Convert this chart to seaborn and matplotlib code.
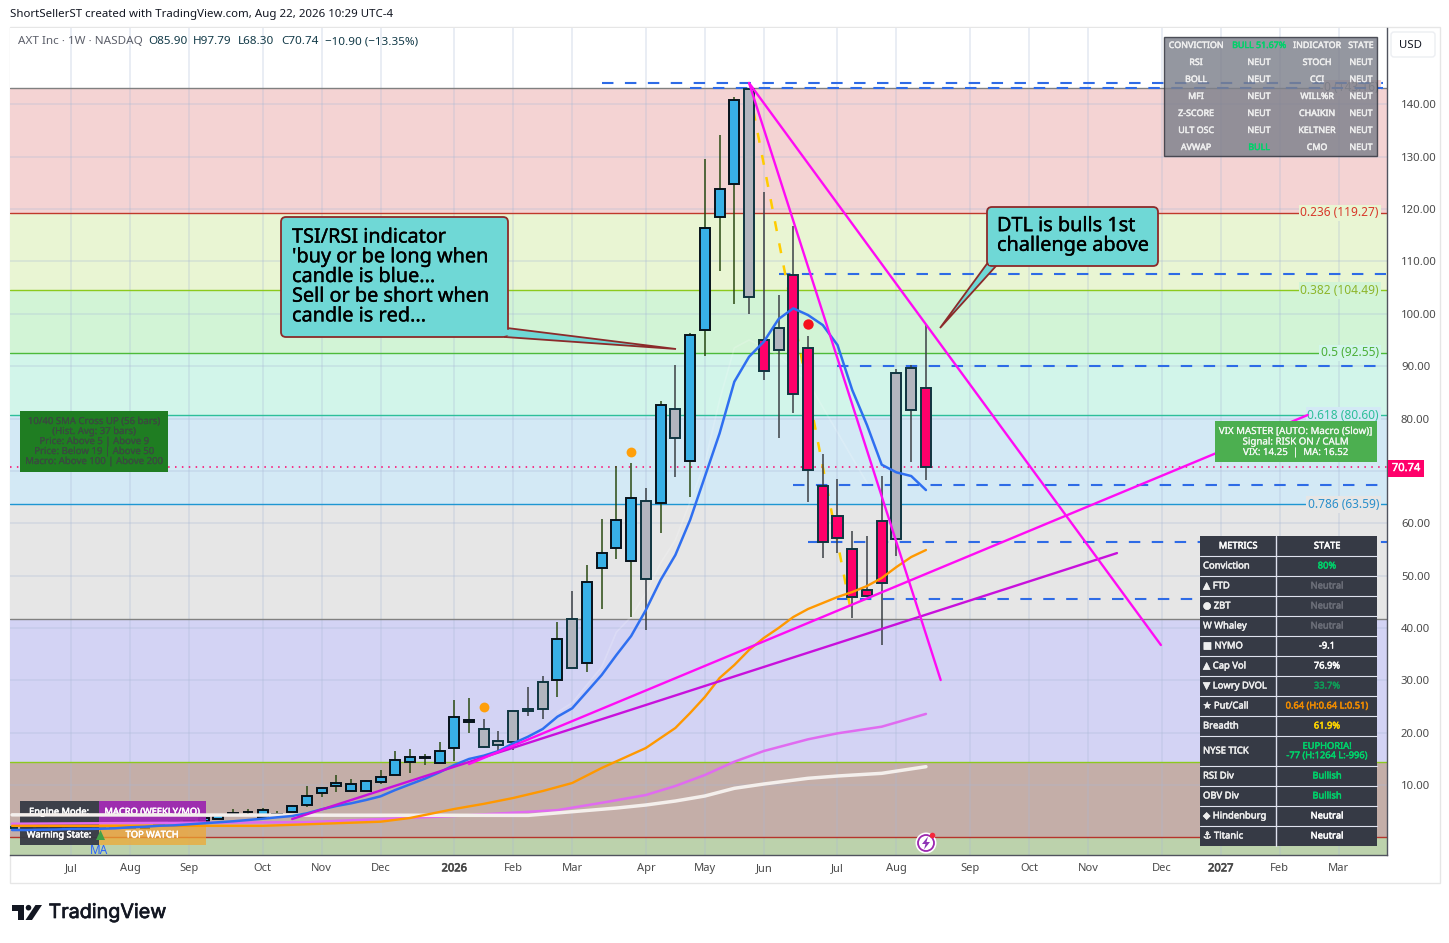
import matplotlib
matplotlib.use('Agg')
import matplotlib.pyplot as plt
import matplotlib.patheffects as pe
from matplotlib.patches import Rectangle, FancyBboxPatch, Polygon, Circle
from matplotlib.transforms import blended_transform_factory
import seaborn as sns

W, H = 1449, 943

# weekly bars, week 0 is the first bar of 2026
candle_week = list(range(-30, 33))
candle_kind = list('gggbgbgbgb' 'gbbbbbbbbb' 'bbbbbbbbbb'
                   'bbggggg' 'bgbbbb' 'gbgbbbbg' 'rgrrrrrrr' 'ggr')
body_top = [2.0, 1.9, 2.1, 1.9, 2.0, 2.1, 1.8, 1.9, 2.0, 1.8,
            2.65, 2.9, 3.07, 3.64, 4.21, 4.6, 4.9, 5.17, 4.4, 5.93,
            7.84, 9.37, 10.32, 10.13, 10.71, 11.47, 14.72, 15.29, 15.4, 16.55,
            22.93, 22.36, 20.75, 18.46, 24.08, 24.46, 29.62, 37.83, 41.65, 48.72,
            54.25, 60.56, 64.76, 64.19, 82.52, 81.76, 95.89, 116.33, 123.78, 140.78,
            142.88, 94.94, 97.2, 107.35, 93.41, 67.05, 61.32, 55.02, 47.19, 60.37,
            88.63, 89.59, 85.90]
body_bot = [1.8, 1.7, 1.9, 1.75, 1.8, 1.9, 1.7, 1.75, 1.85, 1.7,
            2.35, 2.75, 2.69, 3.22, 3.6, 4.5, 4.8, 3.95, 4.2, 4.79,
            6.12, 8.41, 9.75, 8.8, 8.8, 10.52, 11.85, 14.45, 15.2, 14.14,
            17.01, 21.98, 17.32, 17.58, 18.16, 24.08, 24.46, 30.0, 32.29, 33.24,
            51.39, 55.21, 52.73, 49.29, 63.81, 76.22, 71.83, 96.85, 118.43, 124.73,
            103.15, 89.02, 93.03, 84.62, 70.11, 56.47, 57.12, 45.85, 46.04, 48.52,
            56.93, 81.57, 70.74]
wick_high = [2.1, 2.0, 2.2, 2.0, 2.1, 2.2, 1.9, 2.0, 2.1, 1.9,
             2.8, 3.1, 3.2, 3.7, 4.46, 5.36, 5.36, 5.55, 4.98, 6.12,
             9.81, 9.56, 11.85, 11.15, 10.9, 12.87, 16.49, 16.82, 15.92, 18.16,
             26.24, 26.62, 22.55, 20.31, 24.08, 28.72, 30.82, 41.13, 47.05, 51.96,
             60.81, 70.87, 71.5, 66.73, 83.29, 90.2, 96.26, 129.57, 134.15, 141.35,
             143.2, 123.26, 103.59, 116.77, 95.76, 73.16, 68.39, 58.46, 57.5, 69.02,
             89.4, 90.32, 97.79]
wick_low = [1.7, 1.6, 1.8, 1.7, 1.7, 1.8, 1.6, 1.7, 1.8, 1.6,
            2.2, 2.6, 2.6, 3.22, 3.6, 4.5, 4.33, 3.95, 3.89, 4.79,
            5.8, 7.77, 8.72, 8.6, 8.8, 10.25, 11.85, 12.35, 13.88, 14.14,
            14.58, 19.99, 17.12, 16.05, 16.63, 23.24, 22.66, 26.87, 32.29, 31.64,
            43.67, 53.22, 42.14, 39.66, 58.19, 68.88, 65.07, 91.99, 108.23, 101.93,
            100.0, 87.36, 76.3, 81.11, 64.11, 53.41, 54.25, 41.95, 46.04, 36.8,
            53.8, 71.75, 68.30]

blue_week = candle_week
blue_ma = [1.4, 1.4, 1.46, 1.5, 1.6, 1.6, 1.65, 1.73, 1.92, 2.03,
           2.22, 2.3, 2.49, 2.68, 2.88, 3.07, 3.31, 3.56, 3.83, 4.08,
           4.59, 5.36, 5.99, 6.5, 7.13, 7.84, 9.05, 10.13, 11.2, 12.43,
           13.82, 14.97, 15.6, 16.49, 17.96, 19.22, 20.7, 23.05, 24.65, 27.82,
           31.01, 34.83, 38.46, 43.43, 49.16, 53.93, 60.62, 68.89, 77.17, 87.03,
           91.8, 94.67, 99.0, 101.05, 99.77, 97.86, 94.04, 85.45, 78.76, 71.18,
           69.72, 69.02, 66.34]

orange_week = [-30, -13, -5, -3, 0, 2, 4, 6, 8, 10, 13, 15, 16, 17, 18, 19, 20, 21, 22, 23, 24, 25, 26, 27, 28, 29, 30, 31, 32]
orange_ma = [2.2, 2.2, 2.99, 3.7, 5.42, 6.4, 7.52, 8.85, 10.38, 13.25, 17.07, 20.89, 23.75, 26.81, 30.44,
             32.92, 35.79, 38.08, 39.99, 42.09, 43.62, 44.76, 45.91, 46.86, 48.01, 49.54, 51.64, 53.55, 54.89]

violet_week = [-30, -10, 0, 7, 10, 13, 15, 17, 19, 21, 24, 26, 29, 32]
violet_ma = [2.6, 2.9, 4.08, 5.2, 6.6, 8.09, 9.81, 11.91, 14.45, 16.49, 18.73, 19.87, 21.14, 23.58]

white_week = [-30, 5, 8, 11, 13, 15, 17, 19, 21, 24, 26, 29, 32]
white_ma = [4.3, 4.2, 4.9, 5.6, 6.18, 6.94, 7.9, 9.37, 10.19, 11.28, 11.72, 12.23, 13.5]

ghost_week = [7, 8, 9, 10, 11, 12, 13, 14, 15, 16, 17, 18, 19, 20, 21, 22, 24, 28]
ghost_line = [23.9, 25.7, 29.1, 32.5, 39.2, 42.1, 46.7, 52.4, 56.8, 64.1, 71.5, 83.5, 93.5, 95.0, 93.7, 92.0, 87.0, 67.7]

drop_fast_week = [20, 33]
drop_fast = [144.1, 30.05]
drop_slow_week = [20, 47.94]
drop_slow = [144.1, 36.74]
rise_top_week = [1, 57.9]
rise_top = [14.0, 80.67]
rise_low_week = [-11, 44.96]
rise_low = [3.5, 54.3]
gold_week = [20, 27]
gold_line = [143.0, 41.95]

# horizontal dashed levels: value, first week
dash_levels = [144.1, 143.2, 107.6, 90.03, 67.3, 56.47, 45.6]
dash_start = [10, 16, 22, 26, 23, 24, 26]
dash_end = [63.0, 63.0, 63.2, 63.0, 63.0, 63.28, 63.0]

# fib zones
fib_values = [143.16, 119.27, 104.49, 92.55, 80.60, 63.59, 41.73, 14.36, 0.0]
fib_labels = ['0 (143.16)', '0.236 (119.27)', '0.382 (104.49)', '0.5 (92.55)', '0.618 (80.60)',
              '0.786 (63.59)', '', '', '']
fib_colors = ['#808080', '#c0392b', '#8cc91e', '#4cbb3a', '#2ebf9a', '#1e96d2', '#808080', '#8cc91e', '#b5352c']
fib_text_colors = ['#808080', '#d8382a', '#8db52a', '#4caf38', '#2ebf9a', '#2a8fcb', '#808080', '#8cc91e', '#b5352c']
zone_colors = ['#f4d3d3', '#e9f5d3', '#d2f4d6', '#d2f5ea', '#d3e9f5', '#e6e6e6', '#d3d3f4', '#c4aea8', '#bcd2ac']

signal_week = [2, 12]
signal_price = [24.9, 73.6]
sell_week = [24]
sell_price = [98.05]
last_close = 70.74

month_week = [-26, -22, -18, -13, -9, -5, 0, 4, 8, 13, 17, 21, 26, 30, 35, 39, 43, 48, 52, 56, 60]
month_names = ['Jul', 'Aug', 'Sep', 'Oct', 'Nov', 'Dec', '2026', 'Feb', 'Mar', 'Apr', 'May', 'Jun',
               'Jul', 'Aug', 'Sep', 'Oct', 'Nov', 'Dec', '2027', 'Feb', 'Mar']
price_ticks = [10, 20, 30, 40, 50, 60, 70, 80, 90, 100, 110, 120, 130, 140]

grid_rows = [['CONVICTION', 'BULL 51.67%', 'INDICATOR', 'STATE'],
             ['RSI', 'NEUT', 'STOCH', 'NEUT'],
             ['BOLL', 'NEUT', 'CCI', 'NEUT'],
             ['MFI', 'NEUT', 'WILL%R', 'NEUT'],
             ['Z-SCORE', 'NEUT', 'CHAIKIN', 'NEUT'],
             ['ULT OSC', 'NEUT', 'KELTNER', 'NEUT'],
             ['AVWAP', 'BULL', 'CMO', 'NEUT']]

metric_names = ['METRICS', 'Conviction', '▲ FTD', '● ZBT', 'W Whaley', '■ NYMO', '▲ Cap Vol', '▼ Lowry DVOL',
                '★ Put/Call', 'Breadth', 'NYSE TICK', 'RSI Div', 'OBV Div', '◆ Hindenburg', '⚓ Titanic']
metric_states = ['STATE', '80%', 'Neutral', 'Neutral', 'Neutral', '-9.1', '76.9%', '33.7%',
                 '0.64 (H:0.64 L:0.51)', '61.9%', 'EUPHORIA!\n-77 (H:1264 L:-996)', 'Bullish', 'Bullish',
                 'Neutral', 'Neutral']
metric_colors = ['#ffffff', '#00d26a', '#6b6e78', '#6b6e78', '#6b6e78', '#ffffff', '#ffffff', '#0f9d58',
                 '#f08c00', '#ffd600', '#00d26a', '#00d26a', '#00d26a', '#ffffff', '#ffffff']
metric_rows = [536, 556, 576, 596, 616, 636, 656, 676, 696, 716, 736, 766, 786, 806, 826, 846]

sns.set_theme(style='white')
plt.rcParams['font.family'] = ['Noto Sans', 'DejaVu Sans']

fig = plt.figure(figsize=(W / 100, H / 100), dpi=100, facecolor='white')

# pixel canvas for everything that is not price data
ov = fig.add_axes([0, 0, 1, 1], zorder=0)
ov.set_xlim(0, W)
ov.set_ylim(H, 0)
ov.axis('off')
ov.add_patch(Rectangle((10, 27), 1430, 856, fill=False, ec='#e6e6e6', lw=1))

ax = fig.add_axes([10 / W, 1 - 855 / H, 1377 / W, 827 / H], zorder=1)
ax.set_xlim(-30.14, 63.28)
ax.set_ylim(-3.37, 154.6)
px = ov.transData
lab_tf = blended_transform_factory(px, ax.transData)

# zones and fib lines
for i in range(len(zone_colors)):
    lower = fib_values[i + 1] if i + 1 < len(fib_values) else -3.37
    ax.axhspan(lower, fib_values[i], color=zone_colors[i], lw=0, zorder=0)
for val, col in zip(fib_values, fib_colors):
    ax.axhline(val, color=col, lw=1, zorder=2)

ax.set_xticks(month_week)
ax.set_xticklabels(month_names)
ax.set_yticks(price_ticks)
# the last price tag sits over the 70 label
ax.set_yticklabels(['' if t == 70 else '%.2f' % t for t in price_ticks])
ax.grid(True, color='#a9b9d6', alpha=0.3, lw=1.2)
ax.set_axisbelow('line')
ax.yaxis.tick_right()
ax.tick_params(axis='y', length=0, pad=10, labelsize=8.2, labelcolor='#4a4a4a')
ax.tick_params(axis='x', length=0, pad=6, labelsize=8, labelcolor='#4a4a4a')
for lab in ax.get_xticklabels():
    if lab.get_text() in ('2026', '2027'):
        lab.set_path_effects([pe.withStroke(linewidth=0.5, foreground='#4a4a4a')])
for name in ['top', 'left']:
    ax.spines[name].set_visible(False)
for name in ['right', 'bottom']:
    ax.spines[name].set_color('#50535e')
    ax.spines[name].set_linewidth(1)

for val, txt, col, zone in zip(fib_values, fib_labels, fib_text_colors, zone_colors):
    if txt:
        ax.text(1379, val, txt, transform=lab_tf, ha='right', va='center', fontsize=8.6, color=col,
                zorder=2.2, bbox=dict(fc=zone, ec='none', pad=1.2))

ax.axhline(last_close, color='#ff006a', lw=1.1, ls=(0, (1, 3.5)), zorder=2.3)

# dashed support and resistance
for lvl, x0, x1 in zip(dash_levels, dash_start, dash_end):
    ax.hlines(lvl, x0, x1, color='#2e6be6', lw=1.5, ls=(0, (5.5, 5.5)), zorder=2.5)

sns.lineplot(x=gold_week, y=gold_line, ax=ax, color='#ffcc00', lw=1.8, linestyle=(0, (4, 5)), zorder=2.6)
sns.lineplot(x=ghost_week, y=ghost_line, ax=ax, color='white', lw=1.2, alpha=0.18, estimator=None, sort=False, zorder=2.7)

# candles
fill = {'b': '#38b0e6', 'g': '#b2b5be', 'r': '#ff006a'}
edge = {'b': '#07121a', 'g': '#0f3540', 'r': '#0f3540'}
wick = {'b': '#2a4a12', 'g': '#3b4045', 'r': '#3b4045'}
for wk, kind, top, bot, hi, lo in zip(candle_week, candle_kind, body_top, body_bot, wick_high, wick_low):
    ax.vlines(wk, lo, hi, color=wick[kind], lw=1.1, zorder=3)
    ax.bar(wk, top - bot, bottom=bot, width=0.68, color=fill[kind], edgecolor=edge[kind], lw=1.4, zorder=3.1)

# moving averages and trend lines
sns.lineplot(x=white_week, y=white_ma, ax=ax, color='#f4efec', lw=2.5, estimator=None, zorder=5.2)
sns.lineplot(x=violet_week, y=violet_ma, ax=ax, color='#e06bf0', lw=1.8, estimator=None, zorder=5.1)
sns.lineplot(x=orange_week, y=orange_ma, ax=ax, color='#ff9800', lw=1.7, estimator=None, zorder=5.3)
sns.lineplot(x=blue_week, y=blue_ma, ax=ax, color='#2f6ff0', lw=1.8, estimator=None, zorder=5.4)
sns.lineplot(x=rise_low_week, y=rise_low, ax=ax, color='#c810dc', lw=1.7, estimator=None, zorder=5.5)
sns.lineplot(x=rise_top_week, y=rise_top, ax=ax, color='#ff0cf4', lw=1.7, estimator=None, zorder=5.6)
sns.lineplot(x=drop_fast_week, y=drop_fast, ax=ax, color='#ff0cf4', lw=1.7, estimator=None, zorder=5.6)
sns.lineplot(x=drop_slow_week, y=drop_slow, ax=ax, color='#ff0cf4', lw=1.7, estimator=None, zorder=5.6)

sns.scatterplot(x=signal_week, y=signal_price, ax=ax, color='#ff9f0a', s=50, lw=0, zorder=6)
sns.scatterplot(x=sell_week, y=sell_price, ax=ax, color='#f5101c', s=56, lw=0, zorder=6)
ax.set_xlabel('')
ax.set_ylabel('')


def box(x0, y0, x1, y1, col, alpha=1.0, z=8, ec='none', lw=0):
    ax.add_patch(Rectangle((x0, y0), x1 - x0, y1 - y0, transform=px, fc=col, alpha=alpha, ec=ec, lw=lw, zorder=z))


def label(x, y, txt, col='white', size=6.7, stroke=0.35, ha='center', z=9, **kw):
    t = ax.text(x, y, txt, transform=px, color=col, fontsize=size, ha=ha, va='center', zorder=z, **kw)
    # Noto Sans renders thin at this size, thicken it a little
    if stroke:
        t.set_path_effects([pe.withStroke(linewidth=stroke, foreground=col)])
    return t


# engine panel, the slow averages cross over it
box(20, 801, 99, 823, '#363a45', 0.95, z=4)
box(99, 801, 206, 823, '#9c27b0', 0.95, z=4)
box(20, 823, 99, 845, '#363a45', 0.95, z=4)
box(99, 823, 206, 845, '#f0a830', 0.72, z=4)
label(59, 812, 'Engine Mode:', z=4.5)
label(152, 812, 'MACRO (WEEKLY/MO)', z=4.5)
label(59, 835, 'Warning State:', z=4.5)
label(152, 835, 'TOP WATCH', z=4.5)
ax.add_patch(Polygon([(96, 840), (105, 840), (100.5, 830)], transform=px, fc='#43a047', ec='none', zorder=4.6))
label(99, 851, 'MA', col='#2962ff', size=8.5, stroke=0, z=4.6)

# sma cross note
box(20, 411, 168, 472, '#1f7d22', z=7)
sma_lines = ['10/40 SMA Cross UP (56 bars)', '(Hist. Avg: 37 bars)', 'Price: Above 5 | Above 9',
             'Price: Below 19 | Above 50', 'Macro: Above 100 | Above 200']
for n, txt in enumerate(sma_lines):
    label(94, 421.5 + 10 * n, txt, col='#3a4a40', size=6.9, stroke=0.12)

# vix note
box(1215, 421, 1377, 462, '#4caf50', z=7)
vix_lines = ['VIX MASTER [AUTO: Macro (Slow)]', 'Signal: RISK ON / CALM', 'VIX: 14.25  |  MA: 16.52']
for n, txt in enumerate(vix_lines):
    label(1296, 431.5 + 10.5 * n, txt, col='#f2f7f2', size=7, stroke=0.15)

# last price tag
box(1388, 460, 1424, 477, '#ff006a', z=9)
ax.patches[-1].set_clip_on(False)
label(1406, 468.5, '70.74', size=8, clip_on=False)

# indicator grid
box(1164, 37, 1377, 156, '#7d808b', 0.82, z=8, ec='#30333d', lw=1)
grid_x = [1196, 1259, 1317, 1361]
for r, row in enumerate(grid_rows):
    for c, txt in enumerate(row):
        col = '#00d26a' if 'BULL' in txt else '#eeeeee'
        label(grid_x[c], 45.5 + 17 * r, txt, col=col, size=6.4)

# metrics table
box(1200, 536, 1377, 846, '#363a45', z=8)
for n in range(len(metric_names)):
    y0, y1 = metric_rows[n], metric_rows[n + 1]
    mid = (y0 + y1) / 2
    if n > 0:
        ax.plot([1200, 1377], [y0, y0], transform=px, color='#dfe2ee', lw=0.8, zorder=8.5)
    if n == 0:
        label(1238, mid, metric_names[n], size=6.7)
    else:
        label(1203, mid, metric_names[n], col='#eeeeee', size=6.8, ha='left')
    label(1327, mid, metric_states[n], col=metric_colors[n], size=6.7, linespacing=1.05)
ax.plot([1276, 1276], [536, 846], transform=px, color='#dfe2ee', lw=1, zorder=8.5)

# callouts
teal = '#6fd8d6'
red_edge = '#8c2a2a'
ax.add_patch(Polygon([(507, 328), (676, 349), (505, 337)], transform=px, fc=teal, ec=red_edge, lw=1.3, zorder=9))
ax.add_patch(FancyBboxPatch((285, 221), 219, 112, boxstyle='round,pad=4,rounding_size=5', transform=px,
                            fc=teal, ec=red_edge, lw=1.3, zorder=9.1))
ax.add_patch(Polygon([(503, 329.5), (512, 330), (512, 335.5), (503, 335.5)], transform=px, fc=teal, ec='none', zorder=9.2))
label(292, 277, "TSI/RSI indicator\n'buy or be long when\ncandle is blue...\nSell or be short when\ncandle is red...",
      col='black', size=14.3, stroke=0.25, ha='left', z=9.3, linespacing=0.98)

ax.add_patch(Polygon([(989, 261), (940, 328), (996, 266)], transform=px, fc=teal, ec=red_edge, lw=1.3, zorder=9))
ax.add_patch(FancyBboxPatch((991, 211), 163, 51, boxstyle='round,pad=4,rounding_size=5', transform=px,
                            fc=teal, ec=red_edge, lw=1.3, zorder=9.1))
ax.add_patch(Polygon([(988.5, 263), (994, 263), (994, 264.8), (988.5, 264.8)], transform=px, fc=teal, ec='none', zorder=9.2))
label(997, 236, 'DTL is bulls 1st\nchallenge above', col='black', size=14.3, stroke=0.25, ha='left', z=9.3,
      linespacing=0.98)

# event bubble
ax.add_patch(Circle((926, 843), 10.5, transform=px, fc='white', ec='none', zorder=9))
ax.add_patch(Circle((926, 843), 8, transform=px, fc='white', ec='#9c27b0', lw=1.3, zorder=9.1))
ax.add_patch(Polygon([(928, 836.5), (922, 844), (925.5, 844), (924, 849.5), (930, 842), (926.5, 842)], transform=px,
                     fc='#8e35b5', ec='none', zorder=9.2))
ax.add_patch(Circle((932.5, 835.5), 2.8, transform=px, fc='#f5283c', ec='none', zorder=9.3))

# header and outer furniture
ov.text(10, 14.5, 'ShortSellerST created with TradingView.com, Aug 22, 2026 10:29 UTC-4', fontsize=8.25, color='#131722',
        va='center')
ax.text(18, 42, 'AXT Inc · 1W · NASDAQ', transform=px, fontsize=8.4, color='#5d606b', va='center', zorder=9)
for x, txt in [(148, 'O85.90'), (193, 'H97.79'), (238, 'L68.30'), (281, 'C70.74'), (325, '−10.90 (−13.35%)')]:
    ax.text(x, 42, txt, transform=px, fontsize=8.4, color='#123a48', va='center', zorder=9)

ov.add_patch(FancyBboxPatch((1393, 34), 40, 21, boxstyle='round,pad=2,rounding_size=3', fc='white', ec='#eceef2', lw=1))
ov.text(1410, 45, 'USD', fontsize=8.2, color='#131722', ha='center', va='center')

ov.add_patch(Polygon([(12, 905), (23.5, 905), (23.5, 920), (17.5, 920), (17.5, 910.5), (12, 910.5)], fc='#131722', ec='none'))
ov.add_patch(Circle((28.5, 907.7), 2.8, fc='#131722', ec='none'))
ov.add_patch(Polygon([(35.5, 905), (42, 905), (32, 920), (25.5, 920)], fc='#131722', ec='none'))
logo = ov.text(48.5, 913, 'TradingView', fontsize=14.2, color='#131722', family='Inter', va='center')
logo.set_path_effects([pe.withStroke(linewidth=0.5, foreground='#131722')])

fig.savefig('out.png', dpi=100)
